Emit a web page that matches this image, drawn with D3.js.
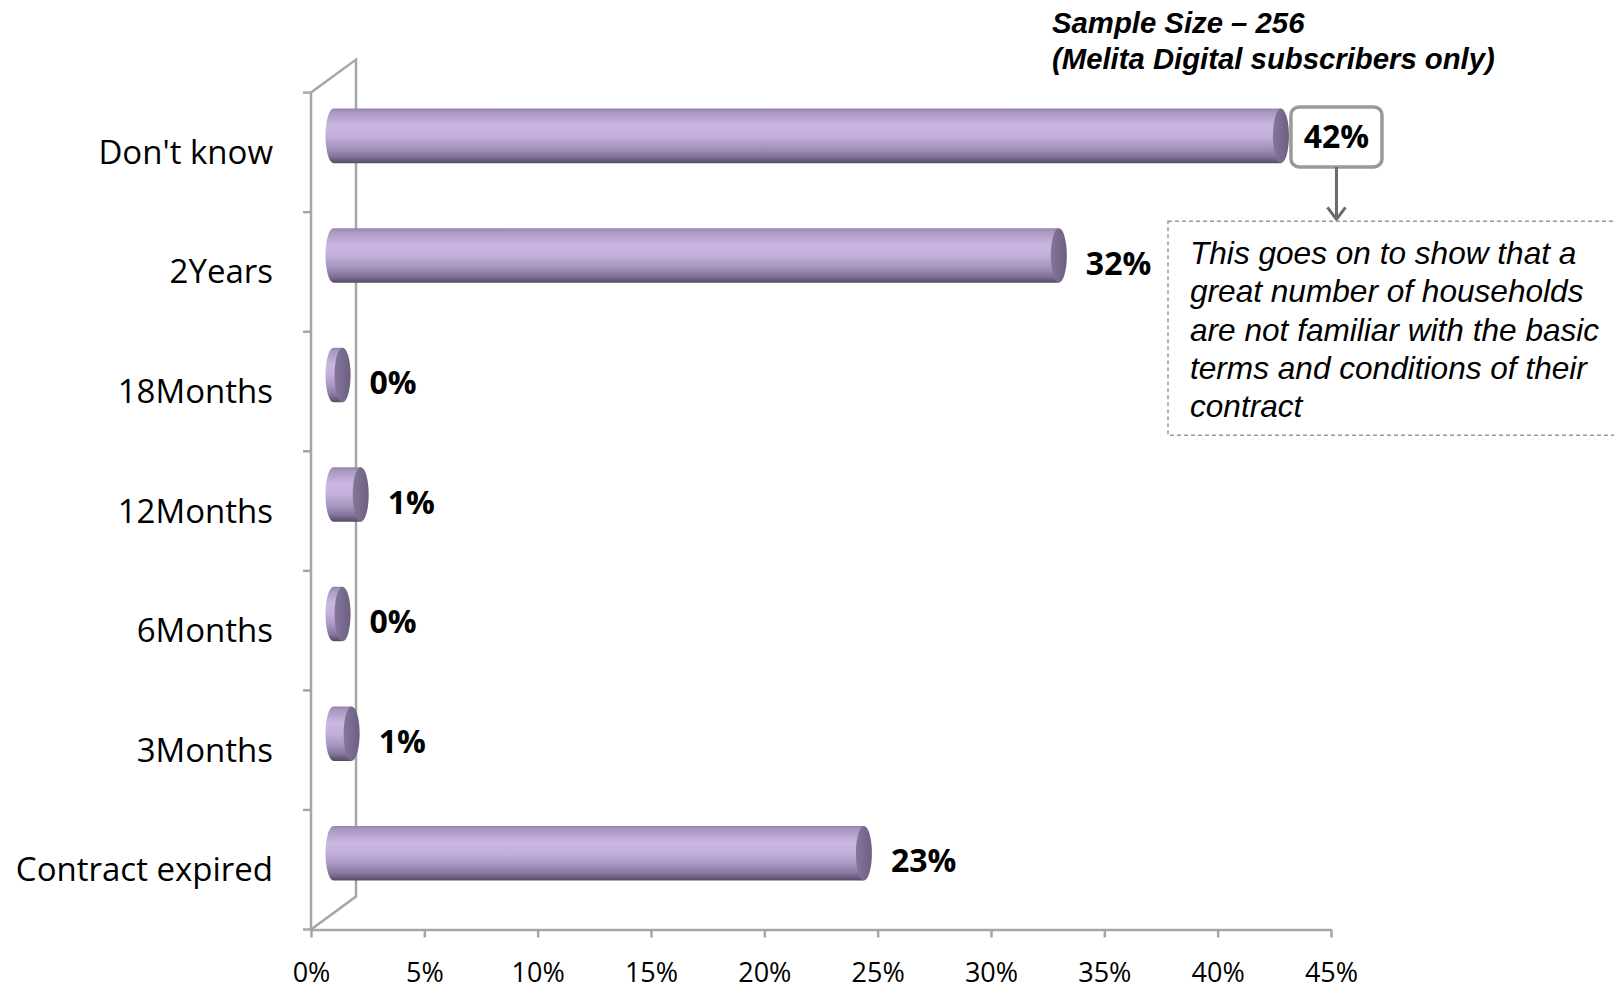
<!DOCTYPE html>
<html>
<head>
<meta charset="utf-8">
<script src="https://cdn.jsdelivr.net/npm/d3@7"></script>
<style>
  html, body { margin: 0; padding: 0; background: #fff; }
  svg { display: block; }
</style>
</head>
<body>
<div id="chart"></div>
<script>
// chart data (share of households, %)
const categories = ["Don't know", "2Years", "18Months", "12Months", "6Months", "3Months", "Contract expired"];
const values = [41.8, 32.0, 0.4, 1.2, 0.4, 0.8, 23.4];
const tickValues = [0, 5, 10, 15, 20, 25, 30, 35, 40, 45];
const headerLines = ["Sample Size \u2013 256", "(Melita Digital subscribers only)"];
const noteLines = [
  "This goes on to show that a",
  "great number of households",
  "are not familiar with the basic",
  "terms and conditions of their",
  "contract"
];

const width = 1614, height = 988;
const plotLeft = 311, plotRight = 1331, plotTop = 92.6, plotBottom = 929.5;
const depthX = 45, depthY = -33;   // 3d wall offset
const axisColor = "#a6a6a6";
const labelFont = "'Open Sans', sans-serif";
const noteFont = "'Liberation Sans', Arial, sans-serif";

const svg = d3.select("#chart").append("svg")
  .attr("width", width)
  .attr("height", height);

const x = d3.scaleLinear().domain([0, 45]).range([plotLeft, plotRight]);
const y = d3.scaleBand().domain(categories).range([plotTop, plotBottom]).padding(0);

const defs = svg.append("defs");
const grad = defs.append("linearGradient")
  .attr("id", "cyl")
  .attr("x1", 0).attr("y1", 0).attr("x2", 0).attr("y2", 1);
[[0, "#9484aa"], [0.07, "#aa98c3"], [0.3, "#c9b7e1"], [0.5, "#c3b0db"],
 [0.72, "#a594bd"], [0.88, "#837398"], [1, "#564a66"]].forEach(s => {
  grad.append("stop").attr("offset", s[0]).attr("stop-color", s[1]);
});
const capGrad = defs.append("linearGradient")
  .attr("id", "cap")
  .attr("x1", 0).attr("y1", 0).attr("x2", 1).attr("y2", 0);
capGrad.append("stop").attr("offset", 0).attr("stop-color", "#85769b");
capGrad.append("stop").attr("offset", 1).attr("stop-color", "#6c5f80");

// back wall + floor edge
const wall = svg.append("g")
  .attr("fill", "none")
  .attr("stroke", axisColor)
  .attr("stroke-width", 2.5);
wall.append("path")
  .attr("d", `M${plotLeft},${plotTop}L${plotLeft + depthX},${plotTop + depthY}L${plotLeft + depthX},${plotBottom + depthY}L${plotLeft},${plotBottom}`);

// left axis
wall.append("line")
  .attr("x1", plotLeft).attr("x2", plotLeft)
  .attr("y1", plotTop).attr("y2", plotBottom);
const bounds = d3.range(categories.length + 1).map(i => plotTop + i * y.step());
wall.selectAll(".ytick")
  .data(bounds)
  .join("line")
  .attr("x1", plotLeft - 8).attr("x2", plotLeft)
  .attr("y1", d => d).attr("y2", d => d);

// bottom axis
const xAxis = svg.append("g")
  .attr("transform", `translate(0,${plotBottom})`)
  .call(d3.axisBottom(x).tickValues(tickValues).tickFormat(d => d + "%").tickSize(8).tickSizeOuter(0));
xAxis.select(".domain").attr("stroke", axisColor).attr("stroke-width", 2.5);
xAxis.selectAll(".tick line").attr("stroke", axisColor).attr("stroke-width", 2.5);
xAxis.selectAll(".tick text")
  .attr("y", 52)
  .attr("dy", null)
  .style("font-family", labelFont)
  .style("font-size", "27px")
  .attr("fill", "#000");

// category labels
svg.append("g")
  .selectAll("text")
  .data(categories)
  .join("text")
  .attr("x", 273)
  .attr("y", d => y(d) + y.bandwidth() / 2)
  .attr("dy", "0.35em")
  .attr("text-anchor", "end")
  .style("font-family", labelFont)
  .style("font-size", "33px")
  .text(d => d);

// cylinders
const barH = y.bandwidth() * 0.456;
const rx = 8;
const x0 = x(0) + depthX / 2;
const scaleLen = v => x(v) - x(0);
const rows = categories.map((c, i) => ({ name: c, value: values[i] }));

const bar = svg.append("g")
  .selectAll("g")
  .data(rows)
  .join("g")
  .attr("transform", d => `translate(0,${y(d.name) + y.bandwidth() / 2 + depthY / 2})`);

bar.append("path")
  .attr("fill", "url(#cyl)")
  .attr("d", d => {
    const x1 = x0 + scaleLen(d.value), r = barH / 2;
    return `M${x0},${-r}L${x1},${-r}L${x1},${r}L${x0},${r}` +
      `A${rx},${r} 0 0 1 ${x0},${-r}Z`;
  });
bar.append("ellipse")
  .attr("cx", d => x0 + scaleLen(d.value))
  .attr("cy", 0)
  .attr("rx", rx)
  .attr("ry", barH / 2)
  .attr("fill", "url(#cap)");

// value labels
bar.filter((d, i) => i > 0).append("text")
  .attr("x", d => x0 + scaleLen(d.value) + rx + 19)
  .attr("y", 8)
  .attr("dy", "0.35em")
  .style("font-family", labelFont)
  .style("font-size", "32px")
  .style("font-weight", "700")
  .text(d => Math.round(d.value) + "%");

// highlighted first label in a box
const first = rows[0];
const boxX = x0 + scaleLen(first.value) + rx + 2;
const boxW = 91, boxH = 60;
const boxY = y(first.name) + y.bandwidth() / 2 + depthY / 2 - boxH / 2 + 1;
const callout = svg.append("g");
callout.append("rect")
  .attr("x", boxX).attr("y", boxY)
  .attr("width", boxW).attr("height", boxH)
  .attr("rx", 8)
  .attr("fill", "#fff")
  .attr("stroke", "#999")
  .attr("stroke-width", 3.5);
callout.append("text")
  .attr("x", boxX + boxW / 2)
  .attr("y", boxY + boxH / 2)
  .attr("dy", "0.35em")
  .attr("text-anchor", "middle")
  .style("font-family", labelFont)
  .style("font-size", "32px")
  .style("font-weight", "700")
  .text(Math.round(first.value) + "%");

// arrow down to the note
const ax = boxX + boxW / 2;
const noteTop = 221.3;
callout.append("path")
  .attr("fill", "none")
  .attr("stroke", "#6b6b6b")
  .attr("stroke-width", 3)
  .attr("d", `M${ax},${boxY + boxH}L${ax},${noteTop - 2}M${ax - 9},${noteTop - 14}L${ax},${noteTop - 2}L${ax + 9},${noteTop - 14}`);

// note box
const note = svg.append("g");
note.append("rect")
  .attr("x", 1168).attr("y", noteTop)
  .attr("width", 470).attr("height", 214)
  .attr("fill", "none")
  .attr("stroke", "#9a9a9a")
  .attr("stroke-width", 1.5)
  .attr("stroke-dasharray", "4,3");
note.append("g")
  .selectAll("text")
  .data(noteLines)
  .join("text")
  .attr("x", 1190)
  .attr("y", (d, i) => 264 + i * 38.3)
  .style("font-family", noteFont)
  .style("font-size", "31.6px")
  .style("font-style", "italic")
  .text(d => d);

// header
svg.append("g")
  .selectAll("text")
  .data(headerLines)
  .join("text")
  .attr("x", 1052)
  .attr("y", (d, i) => 33 + i * 36)
  .style("font-family", noteFont)
  .style("font-size", "29.3px")
  .style("font-style", "italic")
  .style("font-weight", "700")
  .text(d => d);
</script>
</body>
</html>
